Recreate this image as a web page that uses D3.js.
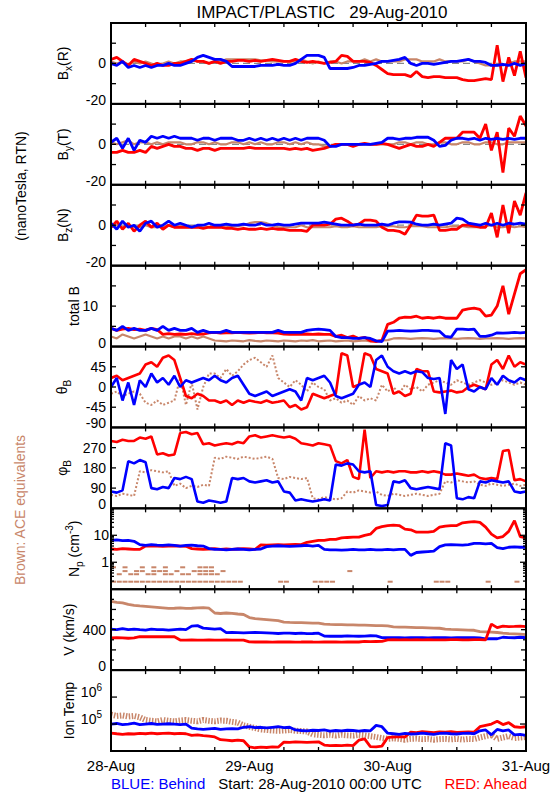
<!DOCTYPE html>
<html><head><meta charset="utf-8">
<script src="https://cdn.jsdelivr.net/npm/d3@7"></script>
<style>body{margin:0;background:#fff}svg{display:block}text{font-family:"Liberation Sans",Arial,sans-serif;white-space:pre}</style>
</head><body><svg id="c" width="550" height="800"></svg>
<script>
// time axis: hourly samples from 28-Aug-2010 00:00 UTC to 31-Aug 00:00
const xHours = d3.range(0, 73);
const dayLabels = ["28-Aug", "29-Aug", "30-Aug", "31-Aug"];
const dayHours = [0, 24, 48, 72];

// Bx (R), nT
const bxBehind = [0,-1,1,-2,-1,-2,-1, -2,-1,-1,0,-1,-1, 0,1,3,4, 3,2,2,1,
 -1.5,-1.5,-1.5,-1.5,-1.5,-1,-1,-1,-0.5,-1, -1,0,2, 4,4,4,3, -2.5,-2.5,-2.5,-2.5,-2,
 -1,-1,-0.5, 0,1,1,1.5,2,3, 0,-1,0,0,-0.5,0, 0.5,1,1,1.5,2,1,1,0.5,-1, -1,-0.5,-1,0,-1,0];
const bxAhead = [2,3,1,-1,2,1,0, -1,0,-1,-1,0,0, 1,2,1,1,0,1,0,1,
 1,1.5,1.5,1,1.5,1,1.5,2,1.5,1, 1,2,1,0.5,1,0.5,0,0.5,1,4, 3.5,1,1,1,0.5,-1,
 -3,-5,-5.5,-5.5,-5.5, -6.5,-4,-6.5,-7,-6.5,-6.5, -7,-7,-7,-8,-8.5,-8.5,-8,-7.5,
 -8,9,-9,3,-6,6,-7];
const bxACE = [1,0,1,-1,1,0,1,0,-1,0, 1,0,1,1,2,1,1,0,1,1, 2,2,2,2,2,2,1.5,1.5,1,1,
 1,1,1,2,1,0,1,0,1,1, 0,1,1,1,2,1,2,1,1,1, 1,2,2,2,1,1,1,2,1,1, 1,1,2,1,0,-1,-1,-1,-1,0, 1,1,1];

// By (T), nT
const byBehind = [1,3,-2,3,-3,2,1, 4,3,4,3,4,3, 3,3,2,3,3,2,3,3, 3,2,2,3,2,3,2,3,2,3,
 2,3,2,3,3,3,2, -1,-1,0,0,0,0,0,0,0.5,1, 3,3,2.5,3,3,3.5,3.5, 3.5,2,-1,-0.5,2,3,
 3,2.5,3,2,3,2.5,3,2.5,3,2.5,3,3];
const byAhead = [-4,-4,-3,-4,-4,-3,-4, -1,-2,-1,0,-1,-1, -2,-2,-3,-2,-2,-3,-2,-2,-2,-2,
 -2,-1.5,-2,-2,-2,-2,-2,-2,-2.5, -2,-2.5,-2,-3,-2.5,-2,-1,0, 0,0,-1,0,0.5,0,0,0.5,0,
 -1,-2,-1,0,-1,-1,0,-1,1, 3,3,3,6,6,6, 3,10,-3,6,-14,8,4,14,9];
const byACE = [1,0,1,2,0,1,1,0,1,0, 1,1,1,0,0,1,1,0,1,0, 0,1,1,0,1,0,1,0,0,1,
 1,0,1,0,1,0,0,-1,-1,0, 0,0,0,0,0,0,0,0,0,0, 1,1,0,1,1,0,0,1,1,0, 0,1,1,0,0,1,1,0,0,1, 1,1,1];

// Bz (N), nT
const bzBehind = [1,-2,2,-1,0,-3,1,2,-1,0,2,
 0,1,0,-1,0,0,1,0,0,0.5,0,0,0.5,0,0,1,0,0,0.5,0,0,0.5,1,1,1,
 1,1.5,1,0.5,0, 0,0,0.5,0,0,0,0.5,0,1, 1.7,1.7,1.5, 0.5,0,0,0.5,0,0.5,1, 3.5,3,
 1,0.5,0,1,0,1,0,1,0.5,1,0.5];
const bzAhead = [-1,2,-2,1,-3,0,2,-1,1,-2,0, -1,-1,-1,-1,-1,-1.5,-1,-1,-1,-1.5,
 -1.5,-2,-1.5,-2,-2,-1.5,-2,-1.5,-2,-2,-2.5, -2.5,-2.5,-3, 0,0,0,0.5, 3,3.5,2, 0,0.5,
 2.5,2.5,2,-1, -2.5,-2.5,-3,-4.5, 0, 5,4.5,4.5,5, -2.5,-2.5,-2,-2, 0,0,-0.5, -1,-1,
 6,-6,10,-4,12,5,16];
const bzACE = [-1,0,-1,0,-1,-1,0,-1,-1,-1, 0,-1,-1,-1,-1,-1,0,-1,-1,-1,
 -1,-0.5,-0.5,0,1,1.5,1.5,1,0,-1, -1,-1,-1,0,-1,-1,-1,-1,-1,-0.5,
 -1,-1,-0.5,-1,-1,-1,-1,-0.5,-0.5,-0.5, -1,-1,-0.5,-0.5,-0.5,-1,-1,-1,-1,-0.5,
 -0.5,-0.5,-1,-1,-1,-0.5,0,-1,-1,-0.5, -1,-0.5,-1];

// total B, nT
const btBehind = [4.5,4,5,4,4.5,4,4,4.5,4,5,4,4.5,4,4,4.5,
 3.5,4,3.5,3.5,3.5,4,3.5,3.5,3.5,3.5,3.5,3.5,3.5,3.5,4,3.5,3.5,3.5,3.5,4,
 4.2,4.3,4.2,4, 2.5,2.2,2.2,2,2,2.2,2, 1.4,1.2, 3.8,3.9,4,3.9,3.8,3.9,4,4,3.9,3.8,
 2.5,2.3, 4.3,4.3,4.2,4.3, 2.5,2.5,2.8, 3.4,3.3,3.4,3.5,3.4,3.5];
const btAhead = [4.5,4,4.3,4.5,4.2,4.3,4,4.5,4.2, 3,3.2,3,3.1,3,3.2,3,3.1,
 3.4,3.5,3.3,3.4,3.4,3.5,3.4,3.3,3.4,3.5,3.4,3.4,3.3, 3.1,3,3.1,3,3.1,3,3.1,3,
 3,2.5,2.8,2.2,2.6,2,2.3, 1.4,1.2,1.5, 5.5,6, 7,7.3,7.2,7.5,7,7.2,7,7.3, 7,7,7,
 9,9.3,9.5,9.2, 7.5,7.8, 10,15,8,13,18,19];
const btACE = [2.5,2,3,2.5,2,2.5,3,2.5,2,2.5, 2,2.5,2.5,2,2.5,2,2.5,2,1.5,1.4,
 1.3,1.5,1.4,1.3,1.6,1.4,1.3,1.5,1.4,1.3, 1.5,1.4,1.3,1.5,1.4,1.6,1.3,1.4,1.5,1.3,
 1.4,1.5,1.3,1.4,1.5,1.3,1.4,1.5,1.6,2, 2.1,2,1.9,2,2.1,2,1.9,2,2.1,2,
 1.9,2,2.1,2,1.9,2,2,2.1,2,1.9, 2,2.1,2];

// theta_B, degrees
const thBehind = [0,20,-30,10,-40,15,0, 30,10,20,5,25,0,15,10, 15,20,15,25,15,10,20,25,
 5,-15,-20,-15,-10,-20,-15, -10,-5,-10,-30,20, 15,20,25,10, -20,-25,-20,-15, 5,10,0,
 60,70,45, 35,30,35,30,35,33, 20,18,20, -60, 60,40,50, -5,-10,0,-5, 20,5,25,15,10,20,15];
const thAhead = [20,25,15,20,25,30, 50,55,45, 65,70,60,20, -20,-25,-15,-20,-30,
 -30,-35,-30,-40,-30,-35,-30,-33,-35,-30,-35,-33,-30, -45,-40,-50,-45, -15,-20,-25,-20,-15,
 75,70, 0,5, 75,70, 40,35,30, -15,-10,-20,-15, 40,35,35, -10,-12,-10,-8,-12,-10,
 0,5,0,-5, 50,60,40,70,45,55,50];
const thACE = [-15,-10,-20,-15,-10,-15, -35,-40,-30,-40,-35,-30, 20,-40,10,-50,0,30,
 30,20,40,25,35,50, 60,65,55,45,70, 20,10,0,15,5,-10,10,0,-5,
 -30,-25,-35,-30,-40,-20,-30,-25,-30, 5,-10,0,-15,5,-5,0,-10,5,
 10,15,10,5,15,10,5,10,15,10,5,10,15,10,5,10,5];

// phi_B, degrees
const phBehind = [75,70,80, 210,200,215,205, 90,85,95,90, 135,130,140,130, 30,25,35,30,25,30,
 135,130,135, 120,115,120,125,115,120, 75,70, 35,40,35,30,35,40,35, 195,190,200,195,
 165,160,165, 15,10,15, 120,115,125, 90,85,90,95,90,85, 290,280, 45,40,50,45,
 120,115,125,120,115,120, 75,70,75];
const phAhead = [300,295,305,300,300, 315,310,320, 240,245,235,240, 335,340,330,335,
 285,290,280,285,290,285,295,290, 320,325,315,320,325,320,315,320,310,
 290,285,280,290,285,280, 210,200,215, 140,130,350,135,
 165,160,165,160,165,165,160,160,165,160,165,160, 150,150,155,150,145,150,
 135,130,135,130, 255,260, 125,130,120];
const phACE = [60,55,65,60,55, 165,160,170,165,160,165, 100,110,90,100,95,105,100,
 225,220,230,225,220,230,225,220,225,230,220, 135,130,140,135,130,135,
 45,40,50,45,40,45, 75,70,80,75,70,75, 60,55,65,60,55,60,65,60,55,60,65,
 120,115,125,120,115,120, 105,100,110,105,100,105,110,100,105];

// Np, cm^-3
const npBehind = [6.5,6.8,6.3,6.5,6.0, 4.5,4.2,4.5,4.3,4.2,4.4,4.2,4.0,4.2,4.3,4.1,4.0,
 3.2,3.0,3.0,2.9,3.0,3.1,3.0,2.9,3.0,3.1, 3.8,4.0,4.1,4.0,3.9,4.0,4.1,4.2,4.0,4.2,
 3.0,2.9,2.9,2.8,2.9,3.0,2.9,2.9,3.0,2.9,2.9,3.0,2.9,3.0,3.0, 1.8, 2.3,2.4,2.5,2.6,
 3.8,4.4,4.5,4.4,4.3,4.5, 5.0,5.0,4.8,5.0, 3.5,3.2, 3.6,3.7,3.6,3.6];
const npAhead = [3.1,3.0,3.2,3.1,3.0, 3.0,4.0,4.1,4.0,3.9,4.0,4.1,4.0,3.9,
 3.2,3.1,3.0,3.1,3.2,3.0,3.1,3.0,3.1,3.2,3.1,3.0, 4.4,4.3,4.4,4.5,4.4,4.5,4.6,4.5,
 5.5,6,6.5,6.5,7,7, 8,8.3,8.5,8.5, 10,11, 18,21,23,24,23, 17,16, 13,13,13,14,
 20,22,23,23, 29,31,32,30, 20,11,8,9,14, 35, 9,8];
const npACEHours = [0,1,2,3,4,5,6,7,8,9,10,11,12,13,14,15,16,17,18,19,20,21,22,29,30,35,36,37,38,48,56,57,58,65,70,
 1,3,4,6,7,9,10,12,13,15,16,17,18, 2,4,5,7,8,9,11,14,15,16,17,19,41, 0,2,5,7,9,12,15,16,17];
const npACEVals = [0.19,0.19,0.19,0.19,0.19,0.19,0.19,0.19,0.19,0.19,0.19,0.19,0.19,0.19,0.19,0.19,0.19,0.19,0.19,0.19,0.19,0.19,0.19,0.19,0.19,0.19,0.19,0.19,0.19,0.19,0.19,0.19,0.19,0.19,0.19,
 0.36,0.36,0.36,0.36,0.36,0.36,0.36,0.36,0.36,0.36,0.36,0.36,0.36,
 0.47,0.47,0.47,0.47,0.47,0.47,0.47,0.47,0.47,0.47,0.47,0.47,0.47,
 0.65,0.65,0.65,0.65,0.65,0.65,0.65,0.65,0.65];

// V, km/s
const vBehind = [405,400,410,400,405,400,395,405,400,400,395,400,405,400, 435,440,
 415,410,405,410, 370,372,370,368,370,372,370,368, 365,362,365,365,362,365,360,362,365,
 337,335,337,335,338,337,335,337,340,338,
 322,320,322,320,318,320,322,320,318,320,322,320,318,320,322,320,320,318,
 310,312,310, 325,322,320,325,322];
const vAhead = [318,320,318,315,318, 330,332,330,332,330,332,330,
 298,297,298,296,297,298,297,296,298,297,296,297,
 280,278,279,278,277,278,279,278,277,278,280,278,277,278,279,278,277,278,279,278,
 285,282,283,284, 300,302,300,301,300,302,300,301,300,299,300,302,301,300,300,302,301,300,
 455,420,435,430,432,435,430];
const vACE = [680,670,665, 650,640,635,630,625,620,615,610,612,615,610,612,615,618,612,
 565,560,565,562,555,550, 520,510,505,500,495,490, 475,472,470,470,468,465,465,
 455,452,450,450,448,447,445,445,443,440,440,438, 428,426,425,423,420,420,418,416,414,
 405,402,400,398,396,394, 380,378,375,372, 365,360,358,355,350];

// Ion temperature, log10(K)
const tBehindLog = [5.0,5.02,4.98,5.0,5.03,4.98,5.0,5.02,4.99,5.0,5.01,5.0,4.98,5.0,
 4.85,4.82,4.8,4.82,4.84,4.8,4.82,4.83,4.82, 4.88,4.9,4.87,4.88,4.86,4.88,4.9,4.87,4.88,
 4.78,4.76,4.75,4.77,4.76,4.78,4.74,4.76,4.75,4.77,4.76,4.74,4.76,4.75, 4.95,4.9,
 4.66,4.64,4.62,4.65,4.63,4.64,4.66,4.64,4.62,4.65,4.66,4.64,4.63,4.65,4.66,4.64,
 4.75,4.78,4.6,4.8,4.75,4.78, 4.6,4.62,4.58];
const tAheadLog = [4.66,4.64,4.62,4.64,4.63,4.65,4.64,4.66,4.64,4.65,4.66,4.64,4.65,4.64,
 4.58,4.6,4.57,4.55,4.52, 4.42,4.4,4.38,4.4,4.38, 4.15,4.12,4.14,4.13,4.15,4.14,
 4.33,4.32,4.34,4.33,4.32,4.33,4.34, 4.22,4.2,4.21,4.2,4.22,4.2, 4.4,4.45, 4.16,4.15,4.18,
 4.5,4.52,4.53,4.52, 4.7,4.68,4.72,4.7,4.68,4.71,4.7,4.72,4.69,4.7,4.71,4.7,
 4.9,4.95,5.0,5.1,4.98,5.05, 4.9,4.88,4.9];
const tACELog = [5.35,5.3,5.32,5.28,5.3,5.25,
 5.15,5.12,5.1,5.15,5.12,5.1,5.13,5.15,5.12,5.1,5.15,5.12,5.1,5.13,5.12,5.08,5.05,
 4.95,4.9,4.85,4.8,4.78,4.76,4.75,4.76,4.78,4.75,4.74,4.72,
 4.62,4.6,4.58,4.6,4.57,4.6,4.58,4.57,4.6,4.58,4.55,4.52,
 4.48,4.45,4.47,4.45,4.42,4.45,4.46,4.44,4.45,4.42,4.44,4.45,4.43,4.45,4.42,4.45,4.44,
 4.5,4.55,4.6,4.45,4.5,4.55,4.48,4.5,4.52];

// ---------------- drawing ----------------
const svg = d3.select("#c");
const C = {red: "#ff0000", blue: "#0000ff", brown: "#c8866a"};
const x = d3.scaleLinear().domain([0, 72]).range([111, 526]);
const TOP = 23, PH = (751 - 23) / 9;

function rich(sel, parts, size) {
  let off = 0;
  parts.forEach(([t, k]) => {
    const target = k === "sub" ? 4 : k === "sup" ? -6 : 0;
    sel.append("tspan").attr("dy", target - off)
      .attr("font-size", k === "n" ? size : Math.round(size * 0.72)).text(t);
    off = target;
  });
}

const pow10 = v => Math.pow(10, v);
const panels = [
  {dom: [-20, 20], ticks: [-10, 0, 10], labels: [[0, "0"], [-20, "-20"]], zero: true,
   title: [["B", "n"], ["x", "sub"], ["(R)", "n"]], tx: 68,
   series: [[bxACE, "brown", 2.2], [bxAhead, "red", 2.8], [bxBehind, "blue", 2.8]]},
  {dom: [-20, 20], ticks: [-10, 0, 10], labels: [[0, "0"], [-20, "-20"]], zero: true,
   title: [["B", "n"], ["y", "sub"], ["(T)", "n"]], tx: 68,
   series: [[byACE, "brown", 2.2], [byAhead, "red", 2.8], [byBehind, "blue", 2.8]]},
  {dom: [-20, 20], ticks: [-10, 0, 10], labels: [[0, "0"], [-20, "-20"]], zero: true,
   title: [["B", "n"], ["z", "sub"], ["(N)", "n"]], tx: 68,
   series: [[bzACE, "brown", 2.2], [bzAhead, "red", 2.8], [bzBehind, "blue", 2.8]]},
  {dom: [0, 20], ticks: [5, 10, 15], labels: [[10, "10", 98], [0, "0"]],
   title: [["total B", "n"]], tx: 79,
   series: [[btACE, "brown", 2.2], [btAhead, "red", 2.8], [btBehind, "blue", 2.8]]},
  {dom: [-90, 90], ticks: [-45, 0, 45], labels: [[45, "45"], [0, "0"], [-45, "-45"], [-90, "-90"]],
   title: [["θ", "n"], ["B", "sub"]], tx: 67,
   series: [[thACE, "brown", 2, "2 2"], [thAhead, "red", 2.6], [thBehind, "blue", 2.6]]},
  {dom: [0, 360], ticks: [90, 180, 270], labels: [[270, "270"], [180, "180"], [90, "90"], [0, "0"]],
   title: [["φ", "n"], ["B", "sub"]], tx: 67,
   series: [[phACE, "brown", 2, "2 2"], [phAhead, "red", 2.6], [phBehind, "blue", 2.6]]},
  {log: true, dom: [0.1, 100], labels: [[10, "10", 109], [1, "1", 109]],
   title: [["N", "n"], ["p", "sub"], [" (cm", "n"], ["-3", "sup"], [")", "n"]], tx: 79,
   series: [[npAhead, "red", 2.8], [npBehind, "blue", 2.8]]},
  {dom: [0, 800], ticks: [100, 200, 300, 400, 500, 600, 700], labels: [[400, "400"], [0, "0"]],
   title: [["V (km/s)", "n"]], tx: 74,
   series: [[vACE, "brown", 2.8], [vBehind, "blue", 2.8], [vAhead, "red", 2.8]]},
  {log: true, dom: [1e4, 1e7], labels: [[1e6, "6", 102], [1e5, "5", 102]], temp: true,
   title: [["Ion Temp", "n"]], tx: 74,
   series: [[tACELog.map(pow10), "brown", 6, "1.5 1.5"], [tAheadLog.map(pow10), "red", 2.8], [tBehindLog.map(pow10), "blue", 2.8]]}
];

panels.forEach((p, i) => {
  const y0 = TOP + i * PH, y1 = y0 + PH;
  const y = (p.log ? d3.scaleLog() : d3.scaleLinear()).domain(p.dom).range([y1, y0]);
  const g = svg.append("g");
  const cid = "clip" + i;
  svg.append("clipPath").attr("id", cid).append("rect")
    .attr("x", x(0)).attr("y", y0).attr("width", x(72) - x(0)).attr("height", PH);
  const dg = g.append("g").attr("clip-path", `url(#${cid})`);
  if (p.zero) {
    dg.append("line").attr("x1", x(0)).attr("x2", x(72)).attr("y1", y(0)).attr("y2", y(0))
      .attr("stroke", "#888").attr("stroke-width", 1.2).attr("stroke-dasharray", "7 4");
  }
  if (i === 6) {
    dg.selectAll("rect.ace").data(npACEHours).join("rect")
      .attr("x", d => x(d)).attr("y", (d, k) => y(npACEVals[k]) - 1)
      .attr("width", 5).attr("height", 2).attr("fill", C.brown);
  }
  p.series.forEach(([vals, col, w, dash]) => {
    const line = d3.line().x((d, k) => x(xHours[k])).y(d => y(d));
    dg.append("path").attr("d", line(vals)).attr("fill", "none")
      .attr("stroke", C[col]).attr("stroke-width", w).attr("stroke-linejoin", "bevel")
      .attr("stroke-dasharray", dash || null);
  });
  // frame
  g.append("rect").attr("x", x(0)).attr("y", y0).attr("width", x(72) - x(0)).attr("height", PH)
    .attr("fill", "none").attr("stroke", "#000").attr("stroke-width", 2);
  // x ticks every 6 hours
  d3.range(6, 72, 6).forEach(h => {
    g.append("line").attr("x1", x(h)).attr("x2", x(h)).attr("y1", y0).attr("y2", y0 + 4).attr("stroke", "#000").attr("stroke-width", 1.3);
    g.append("line").attr("x1", x(h)).attr("x2", x(h)).attr("y1", y1).attr("y2", y1 - 4).attr("stroke", "#000").attr("stroke-width", 1.3);
  });
  // y ticks
  let ticks = [];
  if (p.log) {
    const [a, b] = p.dom;
    for (let dec = a; dec < b; dec *= 10) {
      if (!p.temp) for (let m = 2; m <= 9; m++) ticks.push([dec * m, 3]);
      if (dec > a) ticks.push([dec, 6]);
    }
  } else {
    ticks = p.ticks.map(t => [t, (i === 7 && t % 200) ? 3 : 5]);
  }
  ticks.forEach(([t, len]) => {
    g.append("line").attr("x1", x(0)).attr("x2", x(0) + len).attr("y1", y(t)).attr("y2", y(t)).attr("stroke", "#000").attr("stroke-width", 1.3);
    g.append("line").attr("x1", x(72)).attr("x2", x(72) - len).attr("y1", y(t)).attr("y2", y(t)).attr("stroke", "#000").attr("stroke-width", 1.3);
  });
  // tick labels
  p.labels.forEach(([v, txt, ax]) => {
    let yy = y(v);
    if (Math.abs(yy - y1) < 1) yy -= 4;
    const t = g.append("text").attr("x", ax || 106).attr("y", yy).attr("dy", "0.36em")
      .attr("text-anchor", "end").attr("font-size", 14);
    if (p.temp) { rich(t, [["10", "n"], [txt, "sup"]], 14); }
    else t.text(txt);
  });
  // panel title
  const tt = g.append("text").attr("transform", `translate(${p.tx},${(y0 + y1) / 2}) rotate(-90)`)
    .attr("text-anchor", "middle").attr("font-size", 14);
  rich(tt, p.title, 14);
});

// title
svg.append("text").attr("x", 322).attr("y", 18).attr("text-anchor", "middle")
  .attr("font-size", 17).text("IMPACT/PLASTIC   29-Aug-2010");
// left side labels
svg.append("text").attr("transform", "translate(26,186) rotate(-90)").attr("text-anchor", "middle")
  .attr("font-size", 14).text("(nanoTesla, RTN)");
svg.append("text").attr("transform", "translate(25,510) rotate(-90)").attr("text-anchor", "middle")
  .attr("font-size", 14).attr("fill", C.brown).text("Brown: ACE equivalents");
// date labels
dayHours.forEach((h, k) => {
  svg.append("text").attr("x", x(h)).attr("y", 771).attr("text-anchor", "middle")
    .attr("font-size", 15).text(dayLabels[k]);
});
svg.append("text").attr("x", 111).attr("y", 789).attr("font-size", 15).attr("fill", C.blue).text("BLUE: Behind");
svg.append("text").attr("x", 320).attr("y", 789).attr("text-anchor", "middle").attr("font-size", 15).text("Start: 28-Aug-2010 00:00 UTC");
svg.append("text").attr("x", 527).attr("y", 789).attr("text-anchor", "end").attr("font-size", 15).attr("fill", C.red).text("RED: Ahead");
</script></body></html>
